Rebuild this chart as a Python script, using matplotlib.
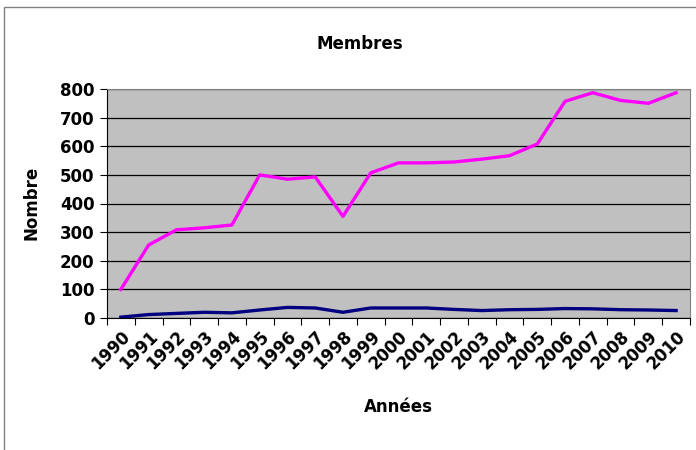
import matplotlib
matplotlib.use('Agg')
import matplotlib.pyplot as plt
from matplotlib.patches import Rectangle

years = [str(y) for y in range(1990, 2011)]
membres = [100, 255, 308, 315, 325, 500, 485, 493, 355, 507, 542,
           542, 545, 555, 567, 608, 757, 787, 760, 750, 787]
autres = [3, 12, 16, 20, 18, 28, 37, 35, 20, 35, 35,
          35, 30, 26, 29, 30, 33, 32, 29, 28, 26]

plt.rcParams['font.family'] = ['DejaVu Sans']
plt.rcParams['font.weight'] = 'bold'

fig = plt.figure(figsize=(6.96, 4.5), dpi=100)
fig.patches.append(Rectangle((4 / 696, -0.1), 2, 1.1 - 7 / 450, transform=fig.transFigure,
                             fill=False, edgecolor='#808080', linewidth=1))
ax = fig.add_axes([107 / 696, 1 - 318 / 450, 583 / 696, 229 / 450])
ax.set_facecolor('#C0C0C0')

x = list(range(len(years)))
ax.plot(x, membres, color='#FF00FF', linewidth=2.4)
ax.plot(x, autres, color='#000080', linewidth=2.4)

ax.set_xlim(-0.5, len(years) - 0.5)
ax.set_ylim(0, 800)
ax.set_yticks(range(0, 801, 100))
ax.set_yticklabels([str(v) for v in range(0, 801, 100)], fontsize=12, fontweight='bold')
ax.grid(axis='y', color='black', linewidth=0.9)
ax.set_axisbelow(True)

ax.set_xticks([i - 0.5 for i in range(len(years) + 1)])
ax.set_xticklabels([])
ax.set_xticks(x, minor=True)
ax.set_xticklabels(years, minor=True, rotation=45, ha='right', va='top',
                   fontsize=12, fontweight='bold', rotation_mode='anchor')
ax.tick_params(axis='x', which='minor', length=0, pad=7)
ax.tick_params(axis='x', which='major', length=5, direction='out', color='black')
ax.tick_params(axis='y', length=5, direction='out', pad=4)

for s in ['top', 'right']:
    ax.spines[s].set_color('#808080')
for s in ['left', 'bottom']:
    ax.spines[s].set_color('black')

fig.text(360 / 696, 1 - 44 / 450, 'Membres', ha='center', va='center',
         fontsize=12, fontweight='bold')
fig.text(31 / 696, 1 - 203 / 450, 'Nombre', ha='center', va='center',
         rotation=90, fontsize=12, fontweight='bold')
fig.text(398 / 696, 1 - 407 / 450, 'Années', ha='center', va='center',
         fontsize=12, fontweight='bold')

fig.savefig('out.png', dpi=100)
